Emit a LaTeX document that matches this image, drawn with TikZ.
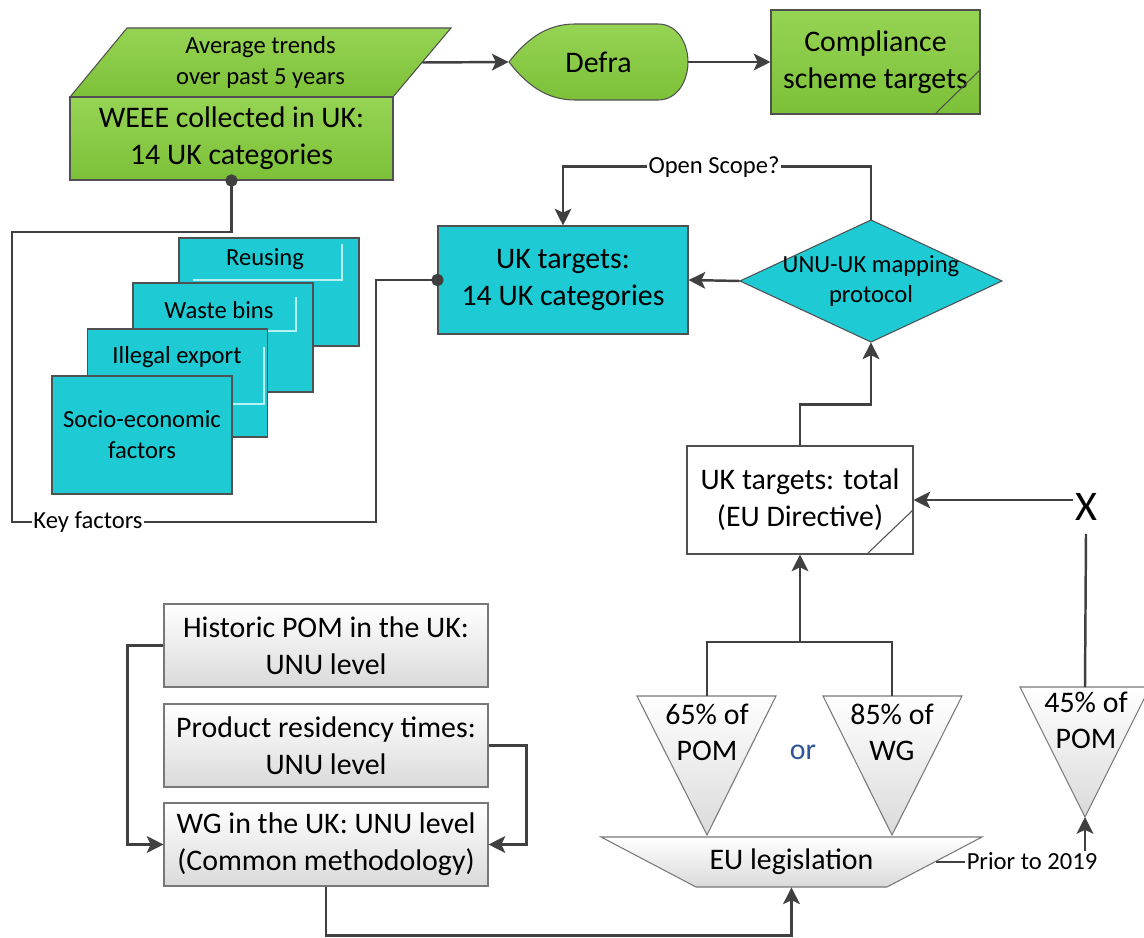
\documentclass[tikz,border=0pt]{standalone}
\usepackage{fontspec}
\setmainfont{Carlito}
\usepackage{tikz}
\usetikzlibrary{positioning, arrows.meta}
\definecolor{ink}{RGB}{64,64,64}
\definecolor{rim}{RGB}{80,80,80}
\definecolor{leaf}{RGB}{150,212,84}
\definecolor{moss}{RGB}{124,192,56}
\definecolor{aqua}{RGB}{30,203,212}
\definecolor{glow}{RGB}{185,240,244}
\definecolor{fog}{RGB}{218,218,218}
\definecolor{edge}{RGB}{120,120,120}
\definecolor{orblue}{RGB}{47,85,151}

\begin{document}
\begin{tikzpicture}[
  x=0.2mm, y=-0.2mm,
  big/.style={font=\fontsize{17}{21}\selectfont, align=center},
  sml/.style={font=\fontsize{14}{17.5}\selectfont, align=center},
  box/.style={rectangle, inner sep=0pt},
  grn/.style={draw=rim, line width=0.6pt, top color=leaf, bottom color=moss},
  cyn/.style={draw=rim, line width=0.6pt, fill=aqua},
  gry/.style={draw=edge, line width=0.6pt, top color=white, bottom color=fog},
  rel/.style={draw=ink, line width=1.4pt},
  dir/.style={rel, -{Stealth[length=9.5pt, width=9.5pt, inset=2.2pt]}},
  tie/.style={rel, {Circle[length=7pt]}-{Circle[length=7pt]},
              shorten <=-3.5pt, shorten >=-3.5pt},
  ag/.style={sml, fill=white, inner sep=1pt},
  glint/.style={draw=glow, line width=1.7pt},
  nick/.style={draw=rim, line width=0.6pt}]
  \useasboundingbox (0,0) rectangle (1144,938);
  \draw[grn] (70,97) -- (127,28) -- (451,28) -- (393,97) -- cycle;
  \node[box, sml, minimum width=64.6mm, minimum height=13.8mm] (avg) at (260.5,62.5) {Average trends\\over past 5 years};
  \node[box, big, grn, minimum width=64.6mm, minimum height=16.6mm] (weee) at (231.5,138.5) {WEEE collected in UK:\\14 UK categories};
  \draw[grn] (509,62) .. controls (526,40) and (546,24) .. (575,24) -- (658,24)
    .. controls (678,24) and (688,44) .. (688,62) .. controls (688,80) and (678,100) .. (658,100)
    -- (575,100) .. controls (546,100) and (526,84) .. (509,62) -- cycle;
  \node[box, big, minimum width=35.8mm, minimum height=15.2mm] (defra) at (598.5,62) {Defra};
  \node[box, big, grn, minimum width=41.8mm, minimum height=20.8mm] (comp) at (875.5,62) {Compliance\\scheme targets};
  \draw[nick] (935,114) -- (980,70);
  \draw[dir] (avg.east) -- (defra.west);
  \draw[dir] (defra.east) -- (comp.west);

  \node[box, cyn, minimum width=36mm, minimum height=21.6mm] (reuse) at (269,292) {};
  \draw[glint] (193,280) -- (342,280) -- (342,244);
  \node[sml] (reuseT) at (265,259) {Reusing};
  \node[box, cyn, minimum width=36mm, minimum height=21.8mm] (bins) at (223,337.5) {};
  \draw[glint] (147,331) -- (296,331) -- (296,297);
  \node[sml] (binsT) at (219,310) {Waste bins};
  \node[box, cyn, minimum width=36mm, minimum height=21.6mm] (export) at (177.5,383) {};
  \draw[glint] (102,404) -- (264,404) -- (264,347);
  \node[sml] (exportT) at (177,357) {Illegal export};
  \node[box, cyn, sml, minimum width=36mm, minimum height=23.6mm] (socio) at (142,435) {Socio-economic\\factors};

  \node[box, cyn, big, minimum width=50mm, minimum height=21.6mm] (ukt) at (563,280) {UK targets:\\14 UK categories};
  \draw[cyn] (740,281) -- (871,220) -- (1002,281) -- (871,342) -- cycle;
  \node[box, sml, minimum width=52.4mm, minimum height=24.4mm] (unu) at (871,281) {UNU-UK mapping\\protocol};
  \draw[dir] (unu.north) -- ++(0,-53) -| (ukt.north);
  \node[ag] (scope) at (714,167) {Open Scope?};
  \draw[dir] (unu.west) -- (ukt.east);
  \draw[tie] (weee.south) |- (12,232) |- (376,522) |- (ukt.west);
  \node[ag] (keys) at (88,522) {Key factors};

  \node[box, big, draw=rim, line width=0.6pt, fill=white, minimum width=45.2mm, minimum height=21.6mm] (tot) at (800,500) {UK targets: total\\(EU Directive)};
  \draw[nick] (867,554) -- (913,510);
  \draw[dir] (tot.north) -- ++(0,-41) -| (unu.south);

  \draw[gry] (637,696) -- (776,696) -- (707,835) -- cycle;
  \node[big, inner sep=0pt, minimum height=14.4mm, anchor=north] (p65) at (707,696) {65\% of\\POM};
  \draw[gry] (823,696) -- (962,696) -- (892,835) -- cycle;
  \node[big, inner sep=0pt, minimum height=14.4mm, anchor=north] (p85) at (892,696) {85\% of\\WG};
  \draw[gry] (1020,687) -- (1150,687) -- (1085,817) -- cycle;
  \node[big, inner sep=0pt, minimum height=13.2mm, anchor=north] (p45) at (1086,687) {45\% of\\POM};
  \coordinate (tip45) at (1085,817);
  \node[big, text=orblue] (or) at (803,752) {or};
  \coordinate (fork) at (800,642);
  \draw[rel] (p65.north) |- (fork) -| (p85.north);
  \draw[dir] (fork) -- (tot.south);

  \node[font=\fontsize{24}{28}\selectfont, inner sep=0.4mm] (xmark) at (1086,507) {X};
  \draw[dir] (xmark.west |- tot.east) -- (tot.east);
  \draw[rel] ([yshift=-2.2mm]xmark.south) -- (p45.north -| tip45);

  \draw[gry] (601,837) -- (982,837) -- (887,887) -- (696,887) -- cycle;
  \node[box, big, minimum width=57.8mm, minimum height=10mm] (eu) at (791.5,862) {EU legislation};
  \draw[dir] (eu.east) -| (tip45);
  \node[ag] (prior) at (1032,861) {Prior to 2019};

  \node[box, big, gry, minimum width=64.8mm, minimum height=16.6mm] (hist) at (326,645.5) {Historic POM in the UK:\\UNU level};
  \node[box, big, gry, minimum width=64.8mm, minimum height=16.6mm] (prod) at (326,745.5) {Product residency times:\\UNU level};
  \node[box, big, gry, minimum width=64.8mm, minimum height=16.6mm] (wg) at (326,844.5) {WG in the UK: UNU level\\(Common methodology)};
  \draw[dir] (hist.west) -- ++(-36,0) |- (wg.west);
  \draw[dir] (prod.east) -- ++(38,0) |- (wg.east);
  \draw[dir] (wg.south) -- ++(0,49) -| (eu.south);
\end{tikzpicture}
\end{document}
